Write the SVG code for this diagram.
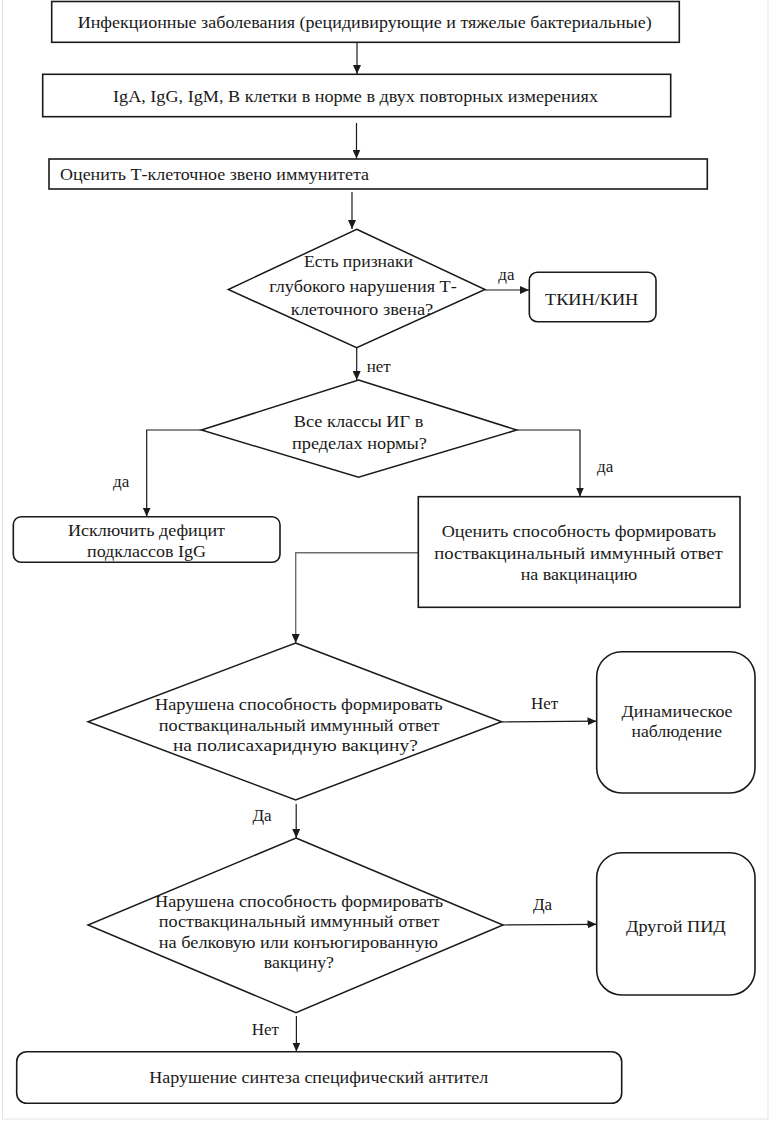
<svg xmlns="http://www.w3.org/2000/svg" width="770" height="1122" viewBox="0 0 770 1122">
<style>
  .bg { fill: #ffffff; }
  .frame { fill: none; stroke: #e2e2e2; stroke-width: 1; }
  .box { fill: #ffffff; stroke: #1a1a1a; stroke-width: 1.6; }
  .dia { fill: #ffffff; stroke: #1a1a1a; stroke-width: 1.5; }
  .t { font-family: 'Liberation Serif', 'DejaVu Serif', serif; font-size: 17.5px; fill: #1a1a1a; }
  .lbl { font-family: 'Liberation Serif', 'DejaVu Serif', serif; font-size: 17px; fill: #1a1a1a; }
  .c { fill: none; stroke: #1a1a1a; stroke-width: 1.2; marker-end: url(#ah); }
  .cg { fill: none; stroke: #6e6e6e; stroke-width: 1.4; marker-end: url(#ah); }
</style>
<defs>
  <marker id="ah" markerWidth="9" markerHeight="8" refX="9" refY="4" orient="auto" markerUnits="userSpaceOnUse">
    <path d="M0,0 L9,4 L0,8 Z" fill="#1a1a1a"/>
  </marker>
</defs>
<rect class="bg" x="0" y="0" width="770" height="1122"/>
<rect class="frame" x="2.5" y="-1" width="765.5" height="1120"/>

<g id="connectors">
  <path class="c" d="M357,42.5 V74"/>
  <path class="c" d="M356.5,123 V158.5"/>
  <path class="c" d="M352,192 V229"/>
  <path class="c" d="M485,290 H529"/>
  <path class="c" d="M356.7,348 V380"/>
  <path class="c" d="M201.4,430 H146.7 V516.5"/>
  <path class="c" d="M516.7,430 H580 V496.5"/>
  <path class="cg" d="M418.3,552.7 H295.7 V643"/>
  <path class="c" d="M501.6,722 L596.5,721.2"/>
  <path class="c" d="M296.2,804 V838"/>
  <path class="c" d="M503,925 L596.5,924.3"/>
  <path class="c" d="M296.4,1016 V1051.5"/>
  <text class="lbl" x="498.3" y="280">да</text>
  <text class="lbl" x="366.7" y="371.5">нет</text>
  <text class="lbl" x="113" y="486.5">да</text>
  <text class="lbl" x="597" y="471.5">да</text>
  <text class="lbl" x="531" y="709">Нет</text>
  <text class="lbl" x="252.5" y="821">Да</text>
  <text class="lbl" x="533" y="910">Да</text>
  <text class="lbl" x="251.7" y="1035">Нет</text>
</g>

<g id="n1">
  <rect class="box" x="51.7" y="1.5" width="627.6" height="40.8"/>
  <text class="t" x="77.7" y="28" textLength="574" lengthAdjust="spacingAndGlyphs">Инфекционные заболевания (рецидивирующие и тяжелые бактериальные)</text>
</g>
<g id="n2">
  <rect class="box" x="42.7" y="74.3" width="628" height="42.4"/>
  <text class="t" x="113" y="101.5" textLength="485" lengthAdjust="spacingAndGlyphs">IgA, IgG, IgM, В клетки в норме в двух повторных измерениях</text>
</g>
<g id="n3">
  <rect class="box" x="49" y="159" width="658.3" height="30"/>
  <text class="t" x="60" y="180" textLength="309" lengthAdjust="spacingAndGlyphs">Оценить Т-клеточное звено иммунитета</text>
</g>
<g id="d1">
  <polygon class="dia" points="356.7,229.3 485,289.5 356.7,347.7 228.3,289.5"/>
  <text class="t" x="304" y="266.5" textLength="109" lengthAdjust="spacingAndGlyphs">Есть признаки</text>
  <text class="t" x="269.3" y="291.5" textLength="187.4" lengthAdjust="spacingAndGlyphs">глубокого нарушения Т-</text>
  <text class="t" x="290.7" y="315" textLength="142.6" lengthAdjust="spacingAndGlyphs">клеточного звена?</text>
</g>
<g id="n4">
  <rect class="box" x="529.3" y="272.3" width="126.7" height="49.4" rx="8"/>
  <text class="t" x="545" y="305" textLength="93.3" lengthAdjust="spacingAndGlyphs">ТКИН/КИН</text>
</g>
<g id="d2">
  <polygon class="dia" points="358.5,380 516.7,430 358.5,477.3 201.4,430"/>
  <text class="t" x="293.7" y="426.5" textLength="129.7" lengthAdjust="spacingAndGlyphs">Все классы ИГ в</text>
  <text class="t" x="292" y="448.5" textLength="135" lengthAdjust="spacingAndGlyphs">пределах нормы?</text>
</g>
<g id="n5">
  <rect class="box" x="13.3" y="516.7" width="266.7" height="45.6" rx="8"/>
  <text class="t" x="68" y="536" textLength="157" lengthAdjust="spacingAndGlyphs">Исключить дефицит</text>
  <text class="t" x="87" y="557" textLength="119" lengthAdjust="spacingAndGlyphs">подклассов IgG</text>
</g>
<g id="n6">
  <rect class="box" x="418.3" y="496.7" width="321.7" height="110.6"/>
  <text class="t" x="441.7" y="537" textLength="274.3" lengthAdjust="spacingAndGlyphs">Оценить способность формировать</text>
  <text class="t" x="434.3" y="559" textLength="288.4" lengthAdjust="spacingAndGlyphs">поствакцинальный иммунный ответ</text>
  <text class="t" x="520.7" y="580" textLength="116.6" lengthAdjust="spacingAndGlyphs">на вакцинацию</text>
</g>
<g id="d3">
  <polygon class="dia" points="295.6,643 501.6,721.7 295.6,800 88,721.7"/>
  <text class="t" x="155" y="710" textLength="287.7" lengthAdjust="spacingAndGlyphs">Нарушена способность формировать</text>
  <text class="t" x="158.7" y="731" textLength="280.8" lengthAdjust="spacingAndGlyphs">поствакцинальный иммунный ответ</text>
  <text class="t" x="173" y="751" textLength="244.8" lengthAdjust="spacingAndGlyphs">на полисахаридную вакцину?</text>
</g>
<g id="n7">
  <rect class="box" x="596.7" y="651.7" width="158.3" height="141.3" rx="25"/>
  <text class="t" x="621.6" y="716.5" textLength="111" lengthAdjust="spacingAndGlyphs">Динамическое</text>
  <text class="t" x="631.6" y="737" textLength="90.4" lengthAdjust="spacingAndGlyphs">наблюдение</text>
</g>
<g id="d4">
  <polygon class="dia" points="296,838 503,925 296,1012.7 88,925"/>
  <text class="t" x="155" y="906.5" textLength="288" lengthAdjust="spacingAndGlyphs">Нарушена способность формировать</text>
  <text class="t" x="158.7" y="927" textLength="280.8" lengthAdjust="spacingAndGlyphs">поствакцинальный иммунный ответ</text>
  <text class="t" x="158.7" y="947.5" textLength="279.3" lengthAdjust="spacingAndGlyphs">на белковую или конъюгированную</text>
  <text class="t" x="263.8" y="968" textLength="70.2" lengthAdjust="spacingAndGlyphs">вакцину?</text>
</g>
<g id="n8">
  <rect class="box" x="596.7" y="852.7" width="158.3" height="142.3" rx="25"/>
  <text class="t" x="626" y="931.5" textLength="99.8" lengthAdjust="spacingAndGlyphs">Другой ПИД</text>
</g>
<g id="n9">
  <rect class="box" x="16.7" y="1051.7" width="605" height="51.6" rx="10"/>
  <text class="t" x="149.3" y="1083" textLength="339" lengthAdjust="spacingAndGlyphs">Нарушение синтеза специфический антител</text>
</g>
</svg>
